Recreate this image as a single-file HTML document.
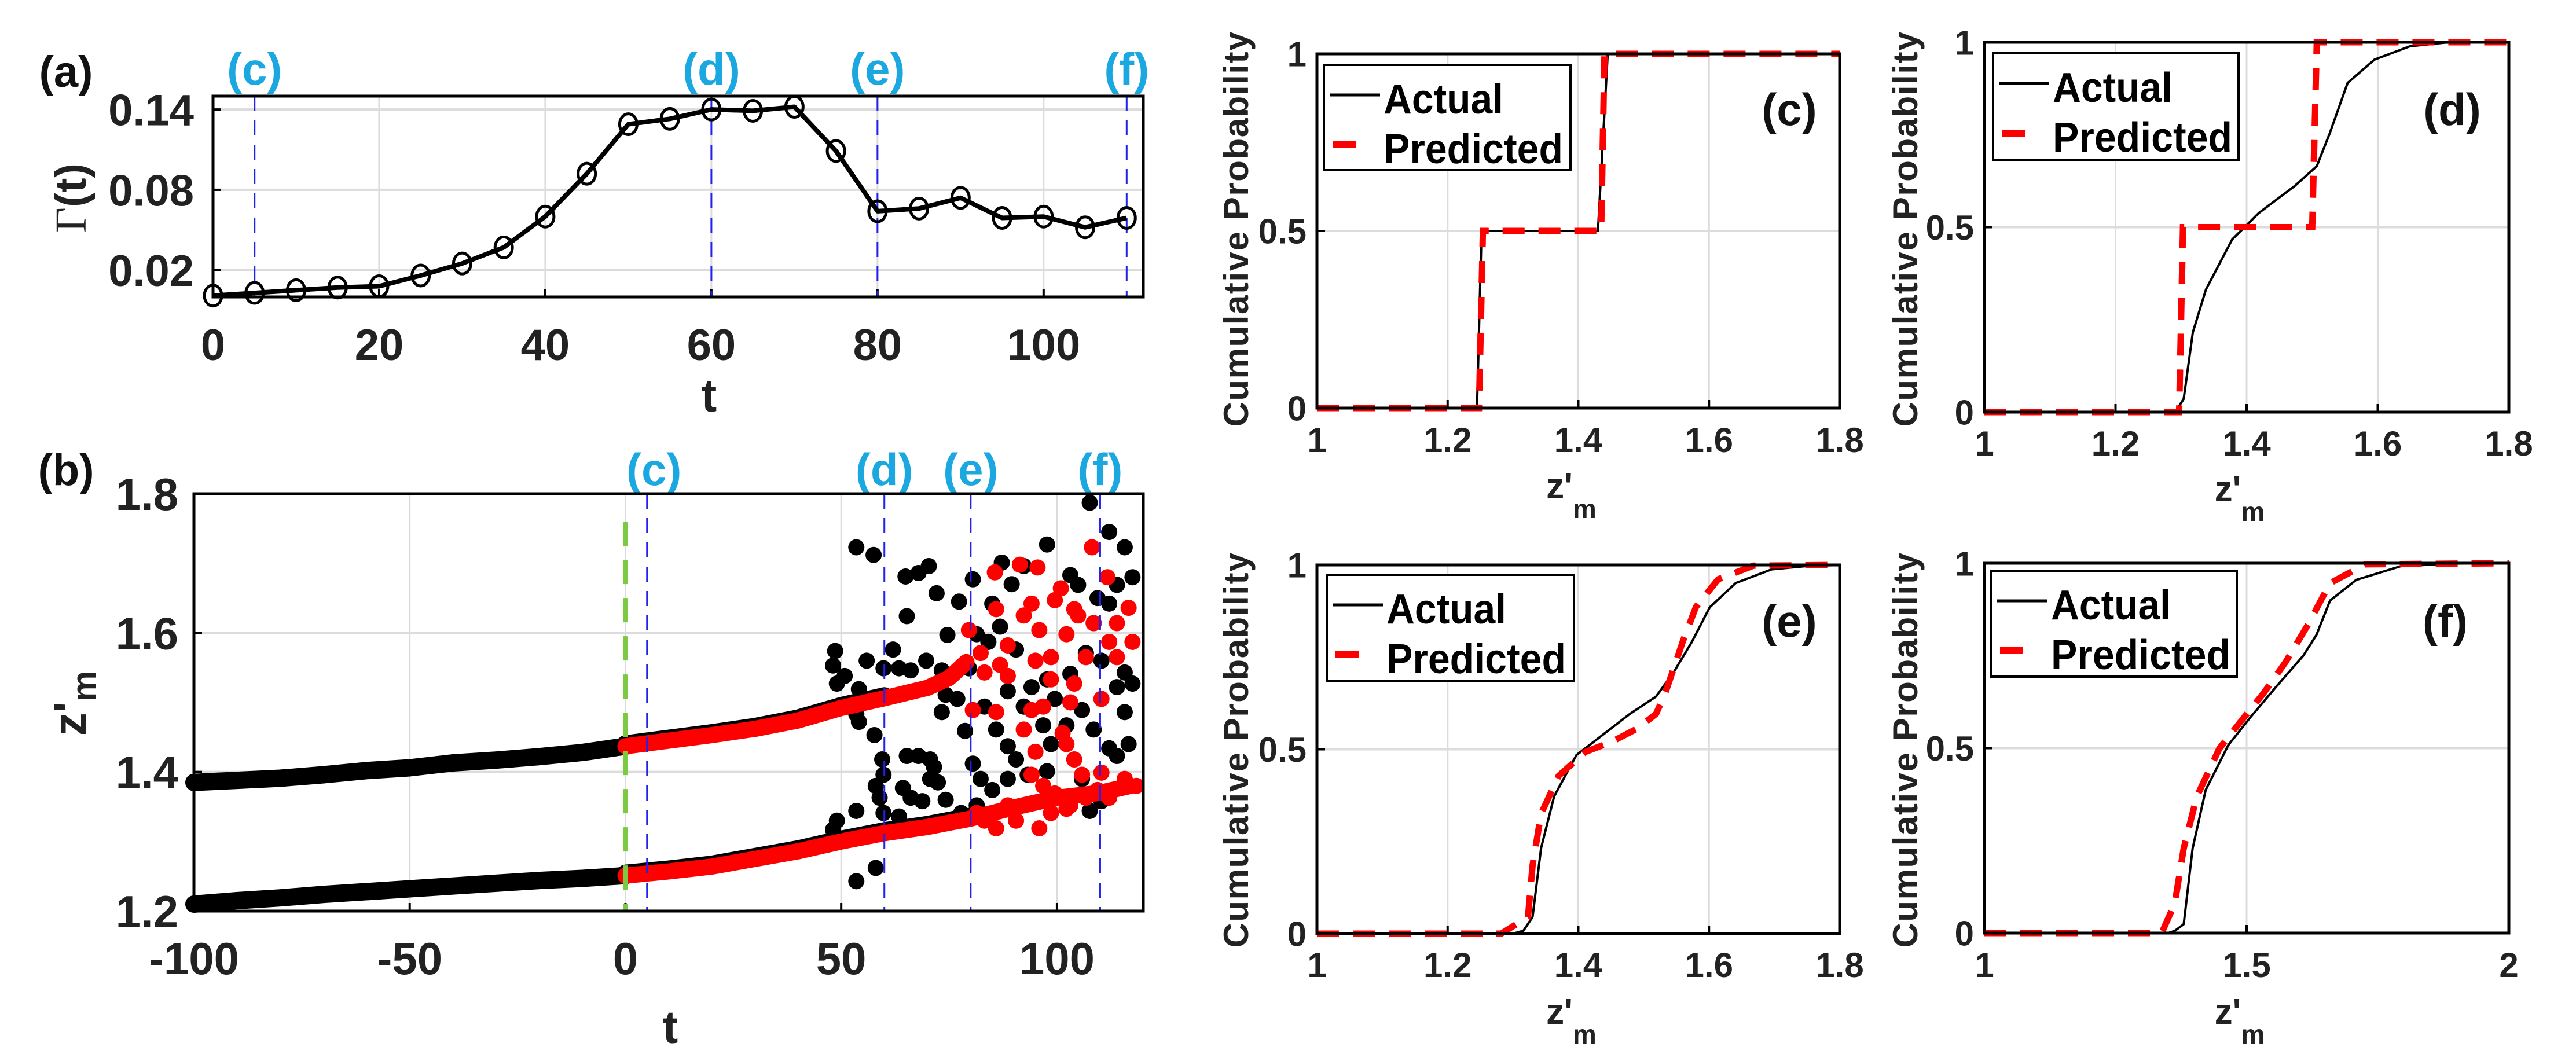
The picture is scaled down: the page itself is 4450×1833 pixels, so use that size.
<!DOCTYPE html>
<html><head><meta charset="utf-8"><style>
html,body{margin:0;padding:0;background:#fff;}
svg{display:block;font-family:"Liberation Sans",Arial,sans-serif;font-weight:bold;}
</style></head><body>
<svg id="fig" xmlns="http://www.w3.org/2000/svg" width="4450" height="1833" viewBox="0 0 4450 1833">
<rect width="4450" height="1833" fill="#fff"/>
</svg>
<script>
// ---------- Panel (a) data ----------
const gammaT = [0,5,10,15,20,25,30,35,40,45,50,55,60,65,70,75,80,85,90,95,100,105,110];
const gammaV = [0.001,0.003,0.005,0.007,0.008,0.016,0.025,0.037,0.060,0.092,0.129,0.133,0.140,0.139,0.142,0.109,0.064,0.066,0.074,0.059,0.060,0.052,0.059];
const aXTicks = [0,20,40,60,80,100];
const aYTicks = [0.02,0.08,0.14];
const markerTimes = [5,60,80,110];
const markerLabels = ['(c)','(d)','(e)','(f)'];
// ---------- Panel (b) data ----------
const bXTicks = [-100,-50,0,50,100];
const bYTicks = [1.2,1.4,1.6,1.8];
const upperPreT = [-100,-90,-80,-70,-60,-50,-40,-30,-20,-10,0];
const upperPreZ = [1.385,1.388,1.391,1.396,1.402,1.406,1.413,1.417,1.422,1.428,1.437];
const upperPostT = [0,10,20,30,40,50,60,70,75,79];
const upperPostZ = [1.437,1.445,1.453,1.462,1.474,1.492,1.506,1.521,1.535,1.558];
const lowerPreT = [-100,-90,-80,-70,-60,-50,-40,-30,-20,-10,0];
const lowerPreZ = [1.210,1.215,1.219,1.224,1.228,1.232,1.236,1.240,1.244,1.247,1.251];
const lowerPostT = [0,10,20,30,40,50,60,70,80,90,100,110,117];
const lowerPostZ = [1.251,1.257,1.264,1.275,1.286,1.300,1.312,1.321,1.333,1.349,1.363,1.370,1.380];
const blackT = [53.5,57.5,64.9,67.9,70.3,72.1,65.2,77.3,74.6,62.0,48.6,48.1,55.9,50.8,54.1,49.0,59.8,63.4,69.7,66.1,73.3,74.2,73.3,54.1,57.7,53.5,59.5,59.8,58.9,58.0,65.2,67.9,70.6,64.3,66.1,71.5,72.4,74.2,70.6,53.5,49.0,48.1,59.8,53.5,58.0,80.5,85.0,87.2,89.5,92.3,97.7,103.1,104.9,112.1,115.7,117.5,107.6,109.4,113.9,81.4,84.1,86.8,90.5,94.1,97.7,99.5,103.1,106.7,110.3,113.9,117.5,115.7,79.6,83.2,78.7,85.9,88.6,90.5,93.2,96.8,98.6,102.2,105.8,108.5,112.1,113.9,116.6,80.5,82.3,85.0,88.6,97.7,105.8,107.6,110.3,81.4,77.8,88.6,92.3,108.5,112.1,115.7,76.9,68.8,63.4];
const blackZ = [1.723,1.712,1.681,1.686,1.696,1.657,1.624,1.645,1.597,1.576,1.574,1.553,1.560,1.538,1.519,1.527,1.549,1.549,1.560,1.546,1.546,1.511,1.486,1.472,1.453,1.483,1.418,1.396,1.363,1.380,1.423,1.423,1.418,1.377,1.363,1.407,1.385,1.360,1.390,1.344,1.330,1.317,1.341,1.243,1.262,1.677,1.642,1.701,1.670,1.696,1.727,1.683,1.669,1.745,1.723,1.680,1.787,1.650,1.669,1.598,1.587,1.609,1.576,1.522,1.533,1.505,1.541,1.571,1.560,1.522,1.527,1.486,1.549,1.494,1.459,1.461,1.437,1.418,1.396,1.467,1.440,1.467,1.489,1.461,1.434,1.423,1.440,1.412,1.390,1.374,1.390,1.401,1.390,1.344,1.358,1.352,1.341,1.516,1.494,1.614,1.642,1.543,1.505,1.358,1.336];
const redT = [85.6,91.4,95.5,108.1,111.7,116.6,100.9,99.5,104.0,94.1,79.6,82.3,85.9,88.6,92.3,95.9,98.6,102.2,104.9,108.5,112.1,113.9,117.5,83.2,88.6,86.8,95.0,98.6,104.0,106.7,110.3,113.9,80.5,85.9,94.1,96.8,103.1,92.3,95.0,101.3,102.2,104.0,105.8,110.3,115.7,118.4,94.1,96.8,99.5,103.1,106.7,109.4,112.1,88.6,90.5,85.9,95.9,83.2,81.4,98.6,102.2];
const redZ = [1.687,1.698,1.694,1.723,1.680,1.636,1.664,1.647,1.634,1.642,1.604,1.571,1.634,1.582,1.625,1.604,1.565,1.598,1.625,1.614,1.587,1.614,1.587,1.543,1.538,1.554,1.560,1.533,1.527,1.565,1.505,1.565,1.489,1.486,1.489,1.494,1.500,1.461,1.429,1.456,1.440,1.418,1.396,1.399,1.390,1.380,1.396,1.380,1.369,1.352,1.363,1.374,1.363,1.352,1.330,1.319,1.319,1.330,1.341,1.341,1.347];
const bMarkers = [5,60,80,110];
// ---------- CDF panels data ----------
const cActX = [1.0,1.245,1.252,1.43,1.445,1.8];
const cActY = [0,0,0.5,0.5,1,1];
const cPredX = [1.0,1.248,1.254,1.435,1.44,1.8];
const cPredY = [0,0,0.5,0.5,1,1];
const dActX = [1.0,1.291,1.304,1.318,1.338,1.378,1.419,1.473,1.507,1.527,1.554,1.595,1.649,1.703,1.8];
const dActY = [0,0,0.036,0.216,0.332,0.467,0.539,0.611,0.665,0.755,0.890,0.953,0.989,0.999,1];
const dPredX = [1.0,1.297,1.303,1.50,1.507,1.8];
const dPredY = [0,0,0.5,0.5,1,1];
const eActX = [1.0,1.30,1.316,1.330,1.343,1.363,1.397,1.438,1.479,1.519,1.546,1.574,1.601,1.641,1.696,1.750,1.8];
const eActY = [0,0,0.008,0.045,0.232,0.372,0.484,0.540,0.596,0.643,0.709,0.792,0.885,0.951,0.988,0.997,1];
const ePredX = [1.0,1.282,1.323,1.330,1.343,1.370,1.411,1.452,1.492,1.519,1.533,1.544,1.560,1.580,1.614,1.668,1.8];
const ePredY = [0,0,0.045,0.185,0.325,0.428,0.493,0.521,0.558,0.596,0.652,0.709,0.793,0.886,0.961,0.998,1];
const fActX = [1.0,1.35,1.363,1.380,1.397,1.422,1.465,1.507,1.557,1.608,1.633,1.659,1.709,1.794,1.895,2.0];
const fActY = [0,0,0.006,0.024,0.229,0.387,0.508,0.583,0.667,0.750,0.806,0.899,0.955,0.992,0.999,1];
const fPredX = [1.0,1.338,1.363,1.380,1.405,1.448,1.490,1.532,1.574,1.617,1.659,1.726,2.0];
const fPredY = [0,0,0.08,0.229,0.369,0.499,0.574,0.648,0.732,0.834,0.946,0.997,1];
const cdfXTicks18 = [1,1.2,1.4,1.6,1.8];
const cdfXTicks2 = [1,1.5,2];
const cdfYTicks = [0,0.5,1];

const svg = document.getElementById('fig');
const NS = 'http://www.w3.org/2000/svg';
function mk(tag, attrs, parent){
  const e = document.createElementNS(NS, tag);
  for (const k in attrs) e.setAttribute(k, attrs[k]);
  (parent||svg).appendChild(e);
  return e;
}
function lin(d0,d1,r0,r1){ return v => r0 + (v-d0)*(r1-r0)/(d1-d0); }
function fmt(v){ return String(v); }
const CYAN = '#1ba8e0';

function axesFrame(g, L, R, T, B, xs, ys, xTicks, yTicks, xGrid, yGrid, tickFs, xLabY, yLabX, fmtX){
  for (const v of xGrid){
    const l = mk('line',{x1:xs(v),x2:xs(v),y1:T,y2:B,stroke:'#dcdcdc','stroke-width':3},g);
    
    
  }
  for (const v of yGrid){
    const l = mk('line',{x1:L,x2:R,y1:ys(v),y2:ys(v),stroke:'#dcdcdc','stroke-width':4},g);
    
    
  }
  for (const v of xTicks){
    const t = mk('text',{x:xs(v),y:xLabY,'text-anchor':'middle','font-size':tickFs,fill:'#222'},g);
    t.textContent = fmtX ? fmtX(v) : fmt(v);
    
    
    const tk = mk('line',{x1:xs(v),x2:xs(v),y1:B,y2:B-14,stroke:'#000','stroke-width':4},g);
    
    
  }
  for (const v of yTicks){
    const t = mk('text',{x:yLabX,y:ys(v)+tickFs*0.36,'text-anchor':'end','font-size':tickFs,fill:'#222'},g);
    t.textContent = fmt(v);
    
    
    const tk = mk('line',{x1:L,x2:L+14,y1:ys(v),y2:ys(v),stroke:'#000','stroke-width':4},g);
    
    
  }
}
function box(g,L,R,T,B){
  const r = mk('rect',{x:L,y:T,width:R-L,height:B-T,fill:'none',stroke:'#000','stroke-width':5},g);
  
  
}
function pathFrom(xs, ys, X, Y){
  return X.map((v,i)=>(i?'L':'M')+xs(v).toFixed(1)+','+ys(Y[i]).toFixed(1)).join(' ');
}

// ================= Panel (a) =================
(function(){
  const g = mk('g',{});
  
  
  const L=368,R=1975,T=166,B=513;
  const xs = lin(0,112,L,R), ys = lin(0,0.15,B,T);
  axesFrame(g,L,R,T,B,xs,ys,aXTicks,aYTicks,[20,40,60,80,100],aYTicks,76,622,335);
  markerTimes.forEach((t,i)=>{
    const l = mk('line',{x1:xs(t),x2:xs(t),y1:T,y2:B,stroke:'#2222ee','stroke-width':3,'stroke-dasharray':'26 16'},g);
    
    
    const tx = mk('text',{x:xs(t),y:146,'text-anchor':'middle','font-size':78,fill:CYAN},g);
    tx.textContent = markerLabels[i];
    
    
  });
  const p = mk('path',{d:pathFrom(xs,ys,gammaT,gammaV),fill:'none',stroke:'#000','stroke-width':8,'stroke-linejoin':'round'},g);
  
  
  gammaT.forEach((t,i)=>{
    const c = mk('ellipse',{cx:xs(t),cy:ys(gammaV[i]),rx:15,ry:18,fill:'none',stroke:'#000','stroke-width':5},g);
    
    
  });
  box(g,L,R,T,B);
  const xl = mk('text',{x:1225,y:711,'text-anchor':'middle','font-size':80,fill:'#222'},g);
  xl.textContent='t';
  
  
  const yl = mk('text',{transform:'translate(148,342) rotate(-90)','text-anchor':'middle','font-size':76,fill:'#222'},g);
  yl.innerHTML = '<tspan font-family="Liberation Serif, serif" font-weight="normal">Γ</tspan>(t)';
  
  
  const pl = mk('text',{x:114,y:150,'text-anchor':'middle','font-size':76,fill:'#111'},g);
  pl.textContent='(a)';
  
  
})();

// ================= Panel (b) =================
(function(){
  const g = mk('g',{});
  
  
  const L=335,R=1975,T=853,B=1574;
  const xs = lin(-100,120,L,R), ys = lin(1.2,1.8,B,T);
  axesFrame(g,L,R,T,B,xs,ys,bXTicks,bYTicks,[-50,0,50,100],[1.4,1.6],78,1683,308);
  [[upperPreT,upperPreZ],[lowerPreT,lowerPreZ],[upperPostT.slice(0,7),upperPostZ.slice(0,7)],[lowerPostT.slice(0,9),lowerPostZ.slice(0,9)]].forEach(([X,Y],k)=>{
    const p = mk('path',{d:pathFrom(xs,ys,X,Y),fill:'none',stroke:'#000','stroke-width':30,'stroke-linecap':'round','stroke-linejoin':'round',transform:k>=2?'translate(0,-4)':''},g);
    
    
  });
  blackT.forEach((t,i)=>{
    const c = mk('circle',{cx:xs(t),cy:ys(blackZ[i]),r:14,fill:'#000'},g);
    
    
  });
  [[upperPostT,upperPostZ],[lowerPostT,lowerPostZ]].forEach(([X,Y])=>{
    const p = mk('path',{d:pathFrom(xs,ys,X,Y),fill:'none',stroke:'#ff0000','stroke-width':28,'stroke-linecap':'round','stroke-linejoin':'round'},g);
    
    
  });
  redT.forEach((t,i)=>{
    const c = mk('circle',{cx:xs(t),cy:ys(redZ[i]),r:14,fill:'#ff0000'},g);
    
    
  });
  const gl = mk('line',{x1:xs(0),x2:xs(0),y1:ys(1.76),y2:B,stroke:'#7cc943','stroke-width':9,'stroke-dasharray':'42 24'},g);
  
  
  bMarkers.forEach((t,i)=>{
    const l = mk('line',{x1:xs(t),x2:xs(t),y1:T,y2:B,stroke:'#2222ee','stroke-width':3,'stroke-dasharray':'26 16'},g);
    
    
    const tx = mk('text',{x:xs(t)+(i===0?12:0),y:838,'text-anchor':'middle','font-size':78,fill:CYAN},g);
    tx.textContent = markerLabels[i];
    
    
  });
  box(g,L,R,T,B);
  const xl = mk('text',{x:1158,y:1802,'text-anchor':'middle','font-size':80,fill:'#222'},g);
  xl.textContent='t';
  
  
  const yl = mk('text',{transform:'translate(148,1215) rotate(-90)','text-anchor':'middle','font-size':80,fill:'#222'},g);
  yl.innerHTML = 'z\'<tspan font-size="60" dy="18">m</tspan>';
  
  
  const pl = mk('text',{x:114,y:838,'text-anchor':'middle','font-size':76,fill:'#111'},g);
  pl.textContent='(b)';
  
  
})();

// ================= CDF panels =================
function cdfPanel(name, L,R,T,B, xMax, xTicks, xGrid, actX,actY,predX,predY, legL,legT,legR,legB, tag, tagX, tagY, yLabX, yLabCY, xTickY, zY){
  const g = mk('g',{});
  
  
  const xs = lin(1,xMax,L,R), ys = lin(0,1,B,T);
  axesFrame(g,L,R,T,B,xs,ys,xTicks,cdfYTicks,xGrid,[0.5],60,xTickY,L-18);
  const a = mk('path',{d:pathFrom(xs,ys,actX,actY),fill:'none',stroke:'#000','stroke-width':4,'stroke-linejoin':'round'},g);
  
  
  const p = mk('path',{d:pathFrom(xs,ys,predX,predY),fill:'none',stroke:'#ff0000','stroke-width':11,'stroke-dasharray':'38 24'},g);
  
  
  box(g,L,R,T,B);
  const lg = mk('g',{},g);
  
  
  const lb = mk('rect',{x:legL,y:legT,width:legR-legL,height:legB-legT,fill:'#fff',stroke:'#000','stroke-width':4},lg);
  
  
  const l1 = mk('line',{x1:legL+10,x2:legL+97,y1:legT+52,y2:legT+52,stroke:'#000','stroke-width':5},lg);
  
  
  const t1 = mk('text',{x:legL+103,y:legT+84,'font-size':72,fill:'#000',textLength:207,lengthAdjust:'spacingAndGlyphs'},lg);
  t1.textContent='Actual';
  
  
  const l2 = mk('line',{x1:legL+15,x2:legL+55,y1:legT+138,y2:legT+138,stroke:'#ff0000','stroke-width':12},lg);
  
  
  const t2 = mk('text',{x:legL+103,y:legT+170,'font-size':72,fill:'#000',textLength:310,lengthAdjust:'spacingAndGlyphs'},lg);
  t2.textContent='Predicted';
  
  
  const tg = mk('text',{x:tagX,y:tagY,'text-anchor':'middle','font-size':78,fill:'#111'},g);
  tg.textContent = tag;
  
  
  const yl = mk('text',{transform:'translate('+(yLabX+4)+','+yLabCY+') rotate(-90)','text-anchor':'middle','font-size':60,fill:'#222',textLength:683,lengthAdjust:'spacing'},g);
  yl.textContent='Cumulative Probability';
  
  
  const xl = mk('text',{x:(L+R)/2-12,y:zY,'text-anchor':'middle','font-size':62,fill:'#222'},g);
  xl.innerHTML = 'z\'<tspan font-size="46" dy="34">m</tspan>';
  
  
}
cdfPanel('panel-c',2275,3178,93,705,1.8,cdfXTicks18,[1.2,1.4,1.6],cActX,cActY,cPredX,cPredY,2287,112,2713,294,'(c)',3091,216,2152,396,781,861);
cdfPanel('panel-d',3428,4334,73,712,1.8,cdfXTicks18,[1.2,1.4,1.6],dActX,dActY,dPredX,dPredY,3443,92,3867,276,'(d)',4236,216,3308,396,787,866);
cdfPanel('panel-e',2275,3178,976,1613,1.8,cdfXTicks18,[1.2,1.4,1.6],eActX,eActY,ePredX,ePredY,2292,993,2719,1177,'(e)',3091,1100,2152,1296,1688,1769);
cdfPanel('panel-f',3428,4334,973,1612,2,cdfXTicks2,[1.5],fActX,fActY,fPredX,fPredY,3440,986,3864,1169,'(f)',4224,1100,3308,1296,1688,1769);
</script>
</body></html>
